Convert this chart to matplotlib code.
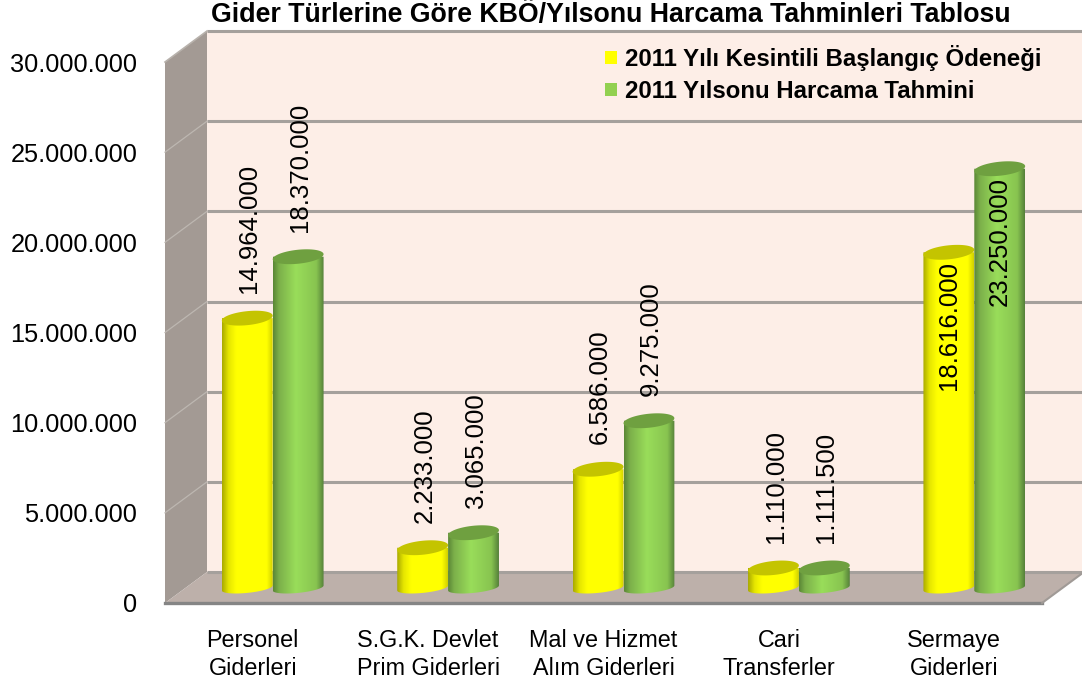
import numpy as np
import matplotlib
matplotlib.use('Agg')
import matplotlib.pyplot as plt
from matplotlib.colors import LinearSegmentedColormap
from matplotlib.patches import Patch, Polygon
from matplotlib.path import Path

categories = ['Personel\nGiderleri', 'S.G.K. Devlet\nPrim Giderleri',
              'Mal ve Hizmet\nAlım Giderleri', 'Cari\nTransferler',
              'Sermaye\nGiderleri']
baslangic = [14964000, 2233000, 6586000, 1110000, 18616000]
yilsonu = [18370000, 3065000, 9275000, 1111500, 23250000]
baslangic_labels = ['14.964.000', '2.233.000', '6.586.000', '1.110.000', '18.616.000']
yilsonu_labels = ['18.370.000', '3.065.000', '9.275.000', '1.111.500', '23.250.000']
y_ticks = [0, 5000000, 10000000, 15000000, 20000000, 25000000, 30000000]
series_names = ['2011 Yılı Kesintili Başlangıç Ödeneği',
                '2011 Yılsonu Harcama Tahmini']

plt.rcParams['font.family'] = ['Liberation Sans', 'DejaVu Sans']

W, H = 1082, 685
fig = plt.figure(figsize=(W/100, H/100), dpi=100)
# front plane of the fake 3d box
ax = fig.add_axes([165/W, 1-603/H, 877/W, 541/H])
ax.set_xlim(-0.5, 4.5)
ax.set_ylim(0, 30000000)

px_x = 5/877
px_y = 30000000/541

# box depth
dep_x = 42*px_x
dep_y = 31*px_y
x0, x1 = -0.5, 4.5
ytop = 30000000


def poly(pts, color, z):
    ax.add_patch(Polygon(pts, closed=True, facecolor=color, edgecolor='none',
                         clip_on=False, zorder=z))


poly([(x0+dep_x, dep_y), (x1+dep_x, dep_y), (x1+dep_x, ytop+dep_y), (x0+dep_x, ytop+dep_y)],
     '#fdeee7', 0.1)
poly([(x0, 0), (x0+dep_x, dep_y), (x0+dep_x, ytop+dep_y), (x0, ytop)], '#a39a94', 0.2)
poly([(x0, 0), (x1, 0), (x1+dep_x, dep_y), (x0+dep_x, dep_y)], '#bdb0aa', 0.2)

for v in y_ticks:
    ax.plot([x0+dep_x, x1+dep_x], [v+dep_y, v+dep_y], color='#a5a09c', lw=2.2,
            clip_on=False, zorder=0.5, solid_capstyle='butt')
    if 0 < v < ytop:
        ax.plot([x0, x0+dep_x], [v, v+dep_y], color='#bdb7b1', lw=0.9,
                clip_on=False, zorder=0.5)
ax.plot([x0, x1], [0, 0], color='#858585', lw=2.4, clip_on=False, zorder=0.6)
ax.plot([x1, x1+dep_x], [0, dep_y], color='#a09a96', lw=1.5, clip_on=False, zorder=0.6)
ax.plot([x0, x0+dep_x], [ytop, ytop+dep_y], color='#b8b2ac', lw=1.2, clip_on=False, zorder=0.6)

yellow_cmap = LinearSegmentedColormap.from_list(
    'yel', [(0, '#a8a800'), (0.13, '#e6e600'), (0.28, '#ffff00'), (0.88, '#ffff00'), (1, '#d0d000')])
green_cmap = LinearSegmentedColormap.from_list(
    'grn', [(0, '#5a8636'), (0.12, '#7cb04a'), (0.45, '#99dd5a'), (0.85, '#88c450'), (1, '#55803a')])

bar_w = 0.29
off_x = 20*px_x
off_y = 15*px_y
cap_b = 7*px_y
skew = 2.5*px_y
t = np.linspace(0, 2*np.pi, 90)
grad = np.linspace(0, 1, 256).reshape(1, -1)


def cylinder(x, v, cmap, top_color, z):
    cx = x + off_x
    a = bar_w/2
    tt = v + off_y
    ang = np.linspace(np.pi, 2*np.pi, 40)
    # body outline: flat sides, elliptical bottom, top closed by the cap
    bottom = np.column_stack([cx + a*np.cos(ang),
                              off_y + 0.7*cap_b*np.sin(ang) + skew*np.cos(ang)])
    outline = np.vstack([bottom, [[cx+a, tt], [cx-a, tt]], bottom[:1]])
    im = ax.imshow(grad, cmap=cmap, extent=[cx-a, cx+a, off_y-cap_b, tt], aspect='auto',
                   interpolation='bilinear', zorder=z)
    im.set_clip_path(Path(outline), transform=ax.transData)
    cap = np.column_stack([cx + a*np.cos(t), tt + cap_b*np.sin(t) + skew*np.cos(t)])
    ax.add_patch(Polygon(cap, closed=True, facecolor=top_color, edgecolor='none', zorder=z+0.01))


for i in range(len(categories)):
    cylinder(i-bar_w/2, baslangic[i], yellow_cmap, '#c4c400', 2)
    cylinder(i+bar_w/2, yilsonu[i], green_cmap, '#6fa040', 3)

ax.set_xlim(-0.5, 4.5)
ax.set_ylim(0, 30000000)


def value_label(x, v, s, inside):
    if inside:
        ax.annotate(s, (x+off_x, v+off_y), xytext=(0, -6), textcoords='offset points',
                    rotation=90, ha='center', va='top', fontsize=18.5, zorder=5)
    else:
        ax.annotate(s, (x+off_x, v+off_y), xytext=(1.5, 18), textcoords='offset points',
                    rotation=90, ha='center', va='bottom', fontsize=18.5, zorder=5)


for i in range(len(categories)):
    inside = i == 4
    value_label(i-bar_w/2, baslangic[i], baslangic_labels[i], inside)
    value_label(i+bar_w/2, yilsonu[i], yilsonu_labels[i], inside)

for s in ax.spines.values():
    s.set_visible(False)
ax.patch.set_visible(False)

ax.set_yticks(y_ticks)
ax.set_yticklabels([f'{v:,}'.replace(',', '.') for v in y_ticks], fontsize=18.3)
ax.set_xticks(range(len(categories)))
ax.set_xticklabels(categories, fontsize=16.8, linespacing=1.27)
ax.tick_params(axis='y', length=0, pad=20)
ax.tick_params(axis='x', length=0, pad=19)

fig.text(611/W, 1-15/H, 'Gider Türlerine Göre KBÖ/Yılsonu Harcama Tahminleri Tablosu',
         ha='center', va='center', fontsize=19.3, fontweight='bold')

handles = [Patch(facecolor='#ffff00', label=series_names[0]),
           Patch(facecolor='#92d050', label=series_names[1])]
leg = ax.legend(handles=handles, loc='upper left', bbox_to_anchor=(605/W, 1-45/H),
                bbox_transform=fig.transFigure, frameon=False,
                handlelength=0.5, handleheight=0.5, handletextpad=0.33,
                labelspacing=0.38, borderpad=0, borderaxespad=0,
                prop={'weight': 'bold', 'size': 17.3})
leg.set_zorder(6)

fig.savefig('out.png', dpi=100)
